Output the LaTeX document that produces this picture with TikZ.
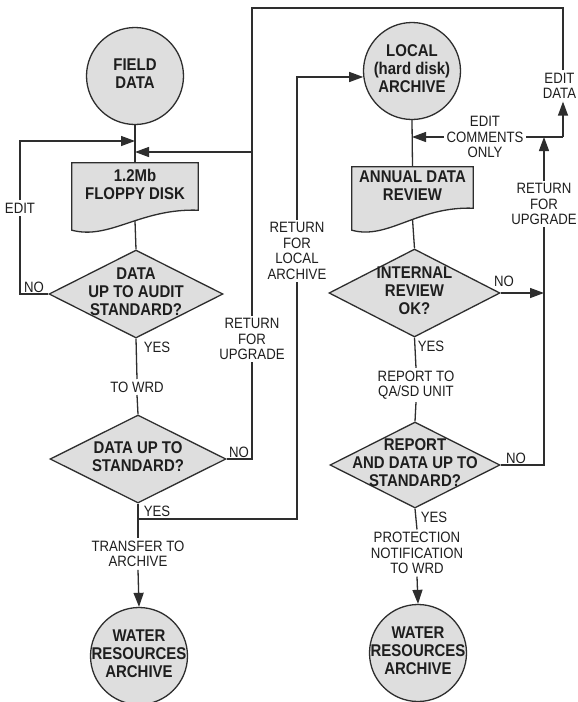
\documentclass[tikz,border=0pt]{standalone}
\usepackage{fontspec}
\setmainfont{Liberation Sans}[FakeStretch=0.88]
\usetikzlibrary{arrows.meta,calc,shapes.geometric}
\pgfdeclarelayer{bg}
\pgfdeclarelayer{mid}
\pgfsetlayers{bg,mid,main}
\definecolor{ink}{HTML}{2E2E2E}
\definecolor{txt}{HTML}{1E1E1E}
\definecolor{shade}{HTML}{DEDEDE}
\newcommand\zb[1]{\makebox[0pt]{\raisebox{\dimexpr(\depth-\height)/2\relax}[0pt][0pt]{\begin{tabular}{@{}c@{}}#1\end{tabular}}}}
\tikzset{
  ln/.style={line width=1.3pt, draw=ink},
  arr/.style={ln, -{Triangle[length=14pt,width=10pt]}},
  bfn/.style={font=\fontsize{17}{18}\selectfont\bfseries, text=txt},
  circ/.style={circle, draw=ink, line width=1.3pt, fill=shade, minimum size=97pt, inner sep=0pt, bfn},
  dia/.style={diamond, draw=ink, line width=1.3pt, fill=shade, inner sep=0pt, bfn},
  docbox/.style={rectangle, inner sep=0pt, bfn},
  docshape/.style={draw=ink, line width=1.3pt, fill=shade, line join=miter},
  lab/.style={font=\fontsize{15}{15.5}\selectfont, align=center, inner sep=2.5pt, text=txt}
}
\begin{document}
\begin{tikzpicture}[x=1pt,y=-1pt]
\useasboundingbox (0,0) rectangle (578,702);
% main shapes
\node[circ] (fd) at (135,76) {\zb{FIELD\\DATA}};
\node[docbox, minimum width=126pt, minimum height=47pt] (floppy) at (135,186.5) {\zb{1.2Mb\\FLOPPY DISK}};
\node[dia, minimum width=174pt, minimum height=88pt] (d1) at (136,294) {\zb{DATA\\UP TO AUDIT\\STANDARD?}};
\node[dia, minimum width=176pt, minimum height=88pt] (d2) at (138,459) {\zb{DATA UP TO\\STANDARD?}};
\node[circ] (wr1) at (139,656) {\zb{WATER\\RESOURCES\\ARCHIVE}};
\node[circ] (la) at (412,71) {\zb{LOCAL\\(hard disk)\\ARCHIVE}};
\node[docbox, minimum width=121pt, minimum height=41pt] (annual) at (412.5,187.5) {\zb{ANNUAL DATA\\REVIEW}};
\node[dia, minimum width=171pt, minimum height=88pt] (d3) at (414.5,293) {\zb{INTERNAL\\REVIEW\\OK?}};
\node[dia, minimum width=170pt, minimum height=86pt] (d4) at (415,465) {\zb{REPORT\\AND DATA UP TO\\STANDARD?}};
\node[circ] (wr2) at (418,653) {\zb{WATER\\RESOURCES\\ARCHIVE}};
% document outlines
\begin{pgfonlayer}{mid}
\draw[docshape] (floppy.north west) -- (floppy.north east) -- (floppy.south east)
  .. controls +(-58,-2) and +(38,10) .. ($(floppy.south west)+(0,20)$) -- cycle;
\draw[docshape] (annual.north west) -- (annual.north east) -- (annual.south east)
  .. controls +(-56,-2) and +(36,10) .. ($(annual.south west)+(0,22)$) -- cycle;
\end{pgfonlayer}
% labels
\node[lab] (edit) at (20,208) {EDIT};
\node[lab] (no1) at (34,287) {NO};
\node[lab] (yes1) at (157,347) {YES};
\node[lab] (towrd) at (137,387) {TO WRD};
\node[lab] (no2) at (239,452) {NO};
\node[lab] (rfu1) at (252,339) {RETURN\\FOR\\UPGRADE};
\node[lab] (yes2) at (157,511) {YES};
\node[lab] (transfer) at (138,554) {TRANSFER TO\\ARCHIVE};
\node[lab] (rfla) at (297,251) {RETURN\\FOR\\LOCAL\\ARCHIVE};
\node[lab] (ecom) at (485,137) {EDIT\\COMMENTS\\ONLY};
\node[lab, inner xsep=0pt] (editdata) at (559.5,86) {EDIT\\DATA};
\node[lab] (rfu2) at (544,204) {RETURN\\FOR\\UPGRADE};
\node[lab] (no3) at (504,281) {NO};
\node[lab] (no4) at (516,458) {NO};
\node[lab] (yes3) at (431,346) {YES};
\node[lab] (report) at (416,385) {REPORT TO\\QA/SD UNIT};
\node[lab] (yes4) at (434,517) {YES};
\node[lab] (protect) at (417,553) {PROTECTION\\NOTIFICATION\\TO WRD};
% junction points
\coordinate (e1) at (135,141);
\coordinate (e2) at (135,152);
\coordinate (j1) at (252,152);
\coordinate (tl) at (252,8);
\coordinate (j2) at (138,519);
\coordinate (e3) at (412,137);
\coordinate (j3) at (563,137);
\coordinate (j4) at (544,137);
\coordinate (r1) at (544,293);
\coordinate (fb) at ($(floppy.south)+(0,11)$);
\coordinate (ab) at ($(annual.south)+(0,11)$);
% connectors
\begin{pgfonlayer}{bg}
\fill[white] (0,0) rectangle (578,702);
\draw[ln] (fd.south) -- (floppy.north);
\draw[ln] (fb) -- (d1.north);
\draw[ln] (d1.west) -| (edit.south);
\draw[arr] (edit.north) |- (e1);
\draw[ln] (d1.south) -- (towrd.north);
\draw[ln] (towrd.south) -- (d2.north);
\draw[ln] (d2.east) -| (rfu1.south);
\draw[ln] (rfu1.north) -- (j1);
\draw[arr] (j3 |- editdata.north) |- (tl) -- (j1) -- (e2);
\draw[ln] (d2.south) -- (transfer.north);
\draw[ln] (j2) -| (rfla.south);
\draw[arr] (rfla.north) |- (la.187);
\draw[arr] (transfer.south) -- (wr1.north);
\draw[ln] (la.south) -- (annual.north);
\draw[arr] (ecom.west) -- (e3);
\draw[ln] (ecom.east) -- (j3);
\draw[arr] (j3) -- (j3 |- editdata.south);
\draw[arr] (rfu2.north) -- (j4);
\draw[ln] (d4.east) -| (rfu2.south);
\draw[arr] (d3.east) -- (r1);
\draw[ln] (ab) -- (d3.north);
\draw[ln] (d3.south) -- (report.north);
\draw[ln] (report.south) -- (d4.north);
\draw[ln] (d4.south) -- (protect.north);
\draw[arr] (protect.south) -- (wr2.north);
\end{pgfonlayer}
\end{tikzpicture}
\end{document}
